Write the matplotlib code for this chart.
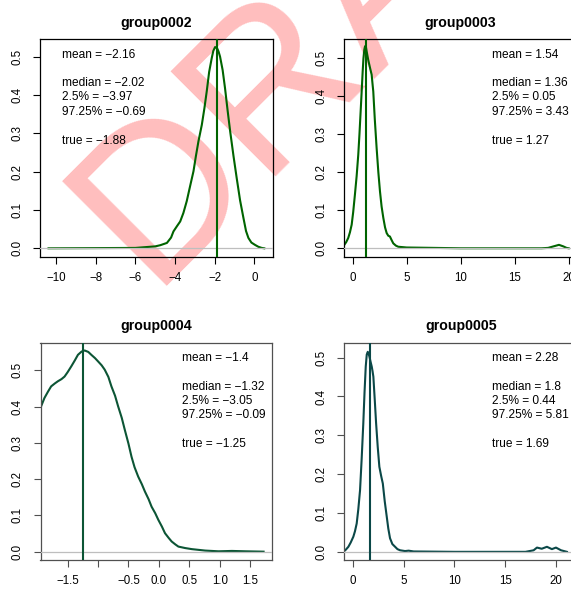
import numpy as np
import matplotlib

matplotlib.use("Agg")
import matplotlib.pyplot as plt

plt.rcParams["font.family"] = ["Liberation Sans", "DejaVu Sans"]

# --- density curves ---
g2_x = [-10.38, -8.0, -6.0, -5.5, -5.0, -4.75, -4.41, -4.2, -4.08, -3.9, -3.74, -3.58,
        -3.41, -3.25, -3.07, -2.95, -2.82, -2.65, -2.52, -2.40, -2.28, -2.15, -2.07,
        -1.98, -1.88, -1.81, -1.73, -1.60, -1.48, -1.35, -1.22, -1.05, -0.89, -0.72,
        -0.55, -0.42, -0.30, -0.15, 0.03, 0.2, 0.37, 0.5]
g2_y = [0.0, 0.0005, 0.001, 0.003, 0.005, 0.008, 0.014, 0.028, 0.044, 0.058, 0.070, 0.092,
        0.123, 0.160, 0.201, 0.240, 0.279, 0.322, 0.365, 0.410, 0.460, 0.496, 0.515,
        0.525, 0.522, 0.514, 0.500, 0.465, 0.418, 0.360, 0.305, 0.240, 0.183, 0.125,
        0.079, 0.045, 0.027, 0.015, 0.009, 0.004, 0.001, 0.0]

g3_x = [-0.8, -0.6, -0.41, -0.25, -0.09, 0.05, 0.21, 0.37, 0.52, 0.63, 0.74, 0.84, 0.93,
        1.0, 1.08, 1.15, 1.23, 1.30, 1.45, 1.65, 1.76, 1.85, 1.91, 2.05, 2.22, 2.38,
        2.53, 2.68, 2.84, 3.0, 3.15, 3.3, 3.45, 3.6, 3.76, 4.0, 4.22, 5.0, 10.0, 17.5,
        18.1, 18.6, 19.1, 19.5, 19.8, 20.0]
g3_y = [0.008, 0.016, 0.027, 0.042, 0.062, 0.095, 0.141, 0.190, 0.246, 0.300, 0.360,
        0.415, 0.466, 0.500, 0.523, 0.532, 0.530, 0.518, 0.495, 0.470, 0.457, 0.430,
        0.413, 0.340, 0.264, 0.200, 0.150, 0.110, 0.080, 0.055, 0.040, 0.033, 0.031,
        0.022, 0.013, 0.007, 0.004, 0.002, 0.0, 0.0, 0.001, 0.005, 0.009, 0.005, 0.001, 0.0]

g4_x = [-1.947, -1.88, -1.82, -1.77, -1.71, -1.66, -1.60, -1.55, -1.50, -1.44, -1.38,
        -1.33, -1.27, -1.22, -1.16, -1.11, -1.05, -1.00, -0.94, -0.89, -0.83, -0.78,
        -0.72, -0.67, -0.61, -0.56, -0.50, -0.45, -0.40, -0.34, -0.28, -0.23, -0.17,
        -0.12, -0.06, -0.01, 0.05, 0.10, 0.16, 0.21, 0.27, 0.32, 0.43, 0.54, 0.65, 0.76,
        0.87, 0.98, 1.09, 1.20, 1.31, 1.42, 1.57, 1.72]
g4_y = [0.396, 0.424, 0.442, 0.456, 0.464, 0.470, 0.476, 0.483, 0.495, 0.511, 0.528,
        0.543, 0.552, 0.555, 0.551, 0.543, 0.534, 0.525, 0.514, 0.502, 0.482, 0.456,
        0.430, 0.401, 0.369, 0.336, 0.298, 0.262, 0.233, 0.207, 0.186, 0.166, 0.145,
        0.124, 0.106, 0.088, 0.069, 0.051, 0.038, 0.028, 0.020, 0.014, 0.010, 0.007,
        0.005, 0.003, 0.002, 0.001, 0.0015, 0.002, 0.0015, 0.001, 0.0005, 0.0]

g5_x = [-0.93, -0.7, -0.43, -0.2, 0.06, 0.22, 0.39, 0.55, 0.72, 0.88, 1.04, 1.16, 1.28,
        1.38, 1.48, 1.56, 1.64, 1.75, 1.87, 1.95, 2.03, 2.17, 2.30, 2.46, 2.62, 2.80,
        2.96, 3.15, 3.35, 3.50, 3.67, 3.90, 4.17, 4.40, 4.66, 5.15, 5.5, 6.0, 10.0,
        17.0, 17.8, 18.13, 18.6, 19.11, 19.6, 20.0, 20.5, 21.08]
g5_y = [0.0, 0.005, 0.013, 0.024, 0.039, 0.053, 0.073, 0.110, 0.159, 0.240, 0.331,
        0.410, 0.477, 0.508, 0.515, 0.510, 0.503, 0.490, 0.477, 0.465, 0.451, 0.390,
        0.331, 0.270, 0.219, 0.195, 0.176, 0.130, 0.090, 0.060, 0.035, 0.020, 0.013,
        0.007, 0.004, 0.002, 0.003, 0.001, 0.0, 0.0, 0.004, 0.011, 0.008, 0.013, 0.007,
        0.011, 0.004, 0.0]

titles = ["group0002", "group0003", "group0004", "group0005"]
true_vals = [-1.88, 1.27, -1.25, 1.69]
stats = [
    ["mean = \u22122.16", "median = \u22122.02", "2.5% = \u22123.97", "97.25% = \u22120.69", "true = \u22121.88"],
    ["mean = 1.54", "median = 1.36", "2.5% = 0.05", "97.25% = 3.43", "true = 1.27"],
    ["mean = \u22121.4", "median = \u22121.32", "2.5% = \u22123.05", "97.25% = \u22120.09", "true = \u22121.25"],
    ["mean = 2.28", "median = 1.8", "2.5% = 0.44", "97.25% = 5.81", "true = 1.69"],
]
xticks = [
    [-10, -8, -6, -4, -2, 0],
    [0, 5, 10, 15, 20],
    [-1.5, -1.0, -0.5, 0.0, 0.5, 1.0, 1.5],
    [0, 5, 10, 15, 20],
]
xticklabels = [
    ["\u221210", "\u22128", "\u22126", "\u22124", "\u22122", "0"],
    ["0", "5", "10", "15", "20"],
    ["\u22121.5", "", "\u22120.5", "0.0", "0.5", "1.0", "1.5"],
    ["0", "5", "10", "15", "20"],
]
yticks = [0.0, 0.1, 0.2, 0.3, 0.4, 0.5]

curves = [(g2_x, g2_y), (g3_x, g3_y), (g4_x, g4_y), (g5_x, g5_y)]
colors = ["#006400", "#006400", "#0c5535", "#0b4848"]
frame_colors = ["black", "black", "#505050", "#505050"]
xlims = [(-10.81, 0.94), (-0.8, 20.77), (-1.945, 1.858), (-0.83, 22.1)]
ylims = [(-0.0227, 0.546), (-0.023, 0.551), (-0.023, 0.577), (-0.021, 0.539)]
text_dx = [22, 148, 141, 148]  # px from left frame

W, H = 571, 589
fig = plt.figure(figsize=(W / 100, H / 100), dpi=100)

# pixel boxes: left, top, width, height
boxes = [(40, 39, 233, 218), (344, 39, 233, 218), (40.5, 342.5, 231.5, 217.5), (344.3, 342.5, 233, 217.5)]

# watermark behind everything
fig.text(403 / W, 1 - 32 / H, "DRAFT", rotation=45, rotation_mode="anchor",
         ha="center", va="baseline", fontsize=155, color="red", alpha=0.26, zorder=-5)

for i in range(4):
    l, t, w, h = boxes[i]
    ax = fig.add_axes([l / W, 1 - (t + h) / H, w / W, h / H])
    ax.patch.set_alpha(0)
    x, y = curves[i]
    ax.plot(x, y, color=colors[i], lw=1.5, zorder=2)
    ax.axhline(0, color="#bebebe", lw=0.9, zorder=3)
    ax.axvline(true_vals[i], color=colors[i], lw=1.5, zorder=4)
    ax.set_xlim(xlims[i])
    ax.set_ylim(ylims[i])
    ax.set_xticks(xticks[i])
    ax.set_xticklabels(xticklabels[i])
    ax.set_yticks(yticks)
    ax.set_yticklabels(["%.1f" % v for v in yticks], rotation=90, va="center")
    ax.tick_params(axis="both", length=5, width=0.8, labelsize=8.3, color=frame_colors[i])
    ax.tick_params(axis="x", pad=6)
    ax.tick_params(axis="y", pad=7)
    for s in ax.spines.values():
        s.set_color(frame_colors[i])
        s.set_linewidth(0.9)
    ax.set_title(titles[i], fontsize=10.2, fontweight="bold", pad=9)

    # stats text block
    offs = [15.5, 44, 58.4, 72.8, 101.6]
    for line, dy in zip(stats[i], offs):
        ax.annotate(line, xy=(0, 1), xycoords="axes fraction",
                    xytext=(text_dx[i] * 0.72, -dy * 0.72), textcoords="offset points",
                    ha="left", va="center", fontsize=8.6, annotation_clip=False)

fig.savefig("out.png", dpi=100)
